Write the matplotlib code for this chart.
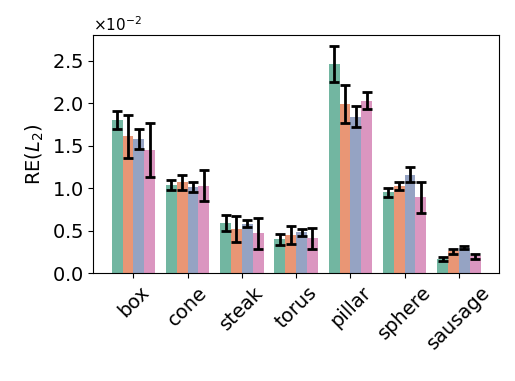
import numpy as np
import matplotlib
matplotlib.use("Agg")
import matplotlib.pyplot as plt
import seaborn as sns

# shapes and four methods (values in units of 1e-2)
shapes = ["box", "cone", "steak", "torus", "pillar", "sphere", "sausage"]

m1 = [1.80, 1.04, 0.59, 0.40, 2.46, 0.95, 0.165]
m2 = [1.61, 1.07, 0.52, 0.45, 1.99, 1.03, 0.255]
m3 = [1.58, 1.01, 0.58, 0.48, 1.84, 1.16, 0.30]
m4 = [1.45, 1.03, 0.47, 0.41, 2.03, 0.89, 0.20]

e1 = [0.11, 0.06, 0.095, 0.063, 0.21, 0.055, 0.02]
e2 = [0.25, 0.09, 0.155, 0.11, 0.22, 0.047, 0.028]
e3 = [0.12, 0.06, 0.04, 0.04, 0.12, 0.09, 0.02]
e4 = [0.32, 0.18, 0.18, 0.125, 0.10, 0.18, 0.028]

means = [m1, m2, m3, m4]
errs = [e1, e2, e3, e4]

colors = sns.color_palette("Set2", 4, desat=0.75)

fig = plt.figure(figsize=(5.15, 3.81), dpi=100)
ax = fig.add_axes([0.181, 0.283, 0.788, 0.625])

x = np.arange(len(shapes))
w = 0.2
for i in range(4):
    pos = x - 0.3 + i * w
    ax.bar(pos, np.array(means[i]) * 1e-2, width=w, color=colors[i])
    ax.errorbar(pos, np.array(means[i]) * 1e-2, yerr=np.array(errs[i]) * 1e-2,
                fmt="none", ecolor="black", elinewidth=2, capsize=3.5, capthick=2)

ax.set_ylim(0, 2.8e-2)
ax.set_yticks(np.arange(0, 2.6, 0.5) * 1e-2)
ax.ticklabel_format(axis="y", style="sci", scilimits=(0, 0), useMathText=True)
ax.yaxis.get_offset_text().set_fontsize(11)
ax.set_xticks(x)
ax.set_xticklabels(shapes, rotation=45)
ax.tick_params(labelsize=14)
ax.set_ylabel("RE($L_2$)", fontsize=14)

fig.savefig("out.png", dpi=100)
